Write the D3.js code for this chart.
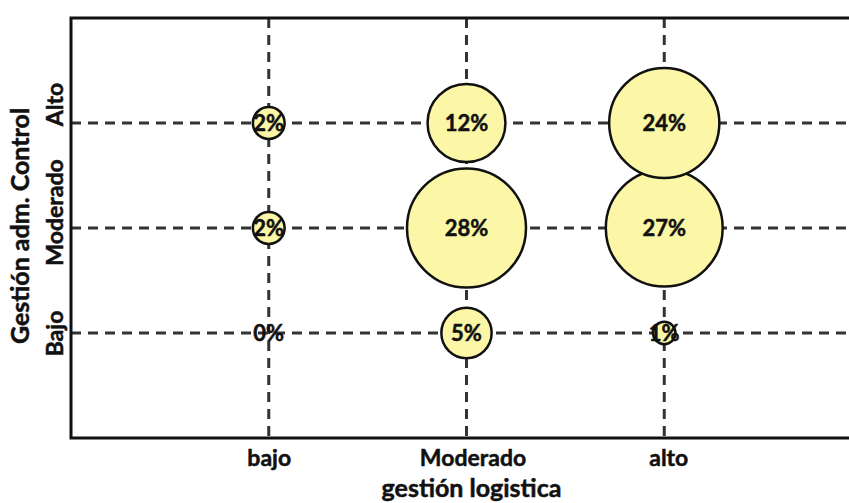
<!DOCTYPE html>
<html><head><meta charset="utf-8">
<script src="https://cdn.jsdelivr.net/npm/d3@7"></script>
<style>
html,body{margin:0;padding:0;background:#fff;}
svg{display:block;}
text{font-family:Lato,"Open Sans",sans-serif;font-weight:bold;fill:#111;stroke:#111;stroke-width:0.5px;}
</style></head>
<body>
<script>
const xCats = ["bajo", "Moderado", "alto"];
const yCats = ["Bajo", "Moderado", "Alto"];
// percentage per y row (Bajo, Moderado, Alto) for each x category
const valBajo = [0, 2, 2];
const valModerado = [5, 28, 12];
const valAlto = [1, 27, 24];
const xTitle = "gestión logistica";
const yTitle = "Gestión adm. Control";

const W = 849, H = 503;
const L = 71, T = 18, R = 862, B = 438;
const xLabelShift = {"bajo": 0, "Moderado": 6, "alto": 4};
const yLabelShift = {"Bajo": 0, "Moderado": -16, "Alto": -19};

const svg = d3.select("body").append("svg").attr("width", W).attr("height", H);

const x = d3.scalePoint().domain(xCats).range([L, R]).padding(1);
const y = d3.scalePoint().domain(yCats).range([B, T]).padding(1);
const r = d3.scaleSqrt().domain([0, 28]).range([0, 59.5]);

const data = [];
[valBajo, valModerado, valAlto].forEach((arr, i) => {
  arr.forEach((v, j) => data.push({x: xCats[i], y: yCats[j], v}));
});

// grid
const grid = svg.append("g").attr("stroke", "#333").attr("stroke-width", 3).attr("stroke-dasharray", "10,7");
grid.selectAll("line.h").data(yCats).enter().append("line")
  .attr("x1", L).attr("x2", W).attr("y1", d => y(d)).attr("y2", d => y(d));
grid.selectAll("line.v").data(xCats).enter().append("line")
  .attr("y1", T).attr("y2", B).attr("x1", d => x(d)).attr("x2", d => x(d));

// bubbles
svg.append("g").selectAll("circle").data(data.filter(d => d.v > 0)).enter().append("circle")
  .attr("cx", d => x(d.x)).attr("cy", d => y(d.y)).attr("r", d => r(d.v))
  .attr("fill", "#fbf7a6").attr("stroke", "#111").attr("stroke-width", 2.5);

svg.append("g").selectAll("text").data(data).enter().append("text")
  .attr("x", d => x(d.x)).attr("y", d => y(d.y)).attr("dy", "0.36em")
  .attr("text-anchor", "middle").attr("font-size", 22)
  .text(d => d.v + "%");

// frame
const frame = svg.append("g").attr("stroke", "#111").attr("stroke-width", 3).attr("fill", "none");
frame.append("path").attr("d", `M${W},${T}H${L}V${B}H${W}`);

// axes
const xAxis = svg.append("g").attr("transform", `translate(0,${B})`)
  .call(d3.axisBottom(x).tickSize(0).tickPadding(0));
xAxis.select(".domain").remove();
xAxis.selectAll(".tick text").attr("x", d => xLabelShift[d]).attr("y", 28).attr("dy", 0)
  .attr("font-size", 23).style("font-family", "Lato").style("font-weight", "bold")
  .attr("fill", "#111").attr("stroke", "#111").attr("stroke-width", 0.5);

const yAxis = svg.append("g").attr("transform", `translate(${L},0)`)
  .call(d3.axisLeft(y).tickSize(0).tickPadding(0));
yAxis.select(".domain").remove();
yAxis.selectAll(".tick text").attr("transform", "rotate(-90)").attr("text-anchor", "middle")
  .attr("x", d => -yLabelShift[d]).attr("y", -8).attr("dy", 0)
  .attr("font-size", 23).style("font-family", "Lato").style("font-weight", "bold")
  .attr("fill", "#111").attr("stroke", "#111").attr("stroke-width", 0.5);

svg.append("text").attr("x", x(xCats[1]) + 5).attr("y", 497).attr("text-anchor", "middle")
  .attr("font-size", 25).text(xTitle);
svg.append("text").attr("transform", `translate(29,${(T + B) / 2 - 2}) rotate(-90)`)
  .attr("text-anchor", "middle").attr("font-size", 25).text(yTitle);
</script>
</body></html>
